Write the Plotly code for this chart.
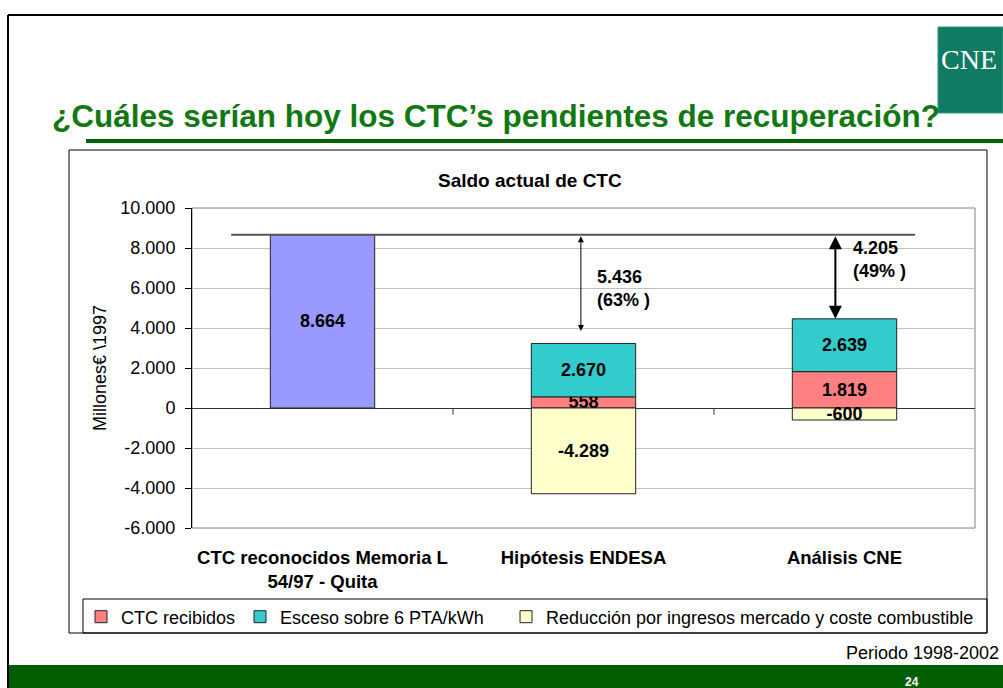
import plotly.graph_objects as go

# ---------------- data ----------------
categorias = ["CTC reconocidos Memoria L<br>54/97 - Quita", "Hipótesis ENDESA", "Análisis CNE"]
ctc_reconocidos = [8664, None, None]
ctc_recibidos = [None, 558, 1819]
exceso_6pta = [None, 2670, 2639]
reduccion_mercado = [None, -4289, -600]
diferencia = [None, 5436, 4205]
porcentaje = [None, 63, 49]
y_tick_vals = [-6000, -4000, -2000, 0, 2000, 4000, 6000, 8000, 10000]
y_tick_labels = ["-6.000", "-4.000", "-2.000", "0", "2.000", "4.000", "6.000", "8.000", "10.000"]

W, H = 1003, 688
FONT = "Liberation Sans, Arial, sans-serif"


def px(x):
    return x / W


def py(y):
    return 1 - y / H


def es(v):
    return "" if v is None else f"{v:,}".replace(",", ".")


fig = go.Figure()

series = [
    ("CTC recibidos", ctc_recibidos, "#FF8080", "legend"),
    ("Esceso sobre 6 PTA/kWh", exceso_6pta, "#33CCCC", "legend2"),
    ("Reducción por ingresos mercado y coste combustible", reduccion_mercado, "#FFFFCC", "legend3"),
    ("CTC reconocidos", ctc_reconocidos, "#9999FF", None),
]
for name, vals, color, leg in series:
    fig.add_trace(go.Bar(
        x=categorias, y=vals, name=name, showlegend=leg is not None,
        legend=leg if leg else "legend",
        marker=dict(color=color, line=dict(color="#222222", width=1)),
        text=[es(v) for v in vals], textposition="inside", insidetextanchor="middle",
        textangle=0, constraintext="none",
        textfont=dict(family=FONT, size=18, color="black", weight="bold"),
        hoverinfo="skip",
    ))

shapes = []
# page border
shapes.append(dict(type="line", xref="paper", yref="paper", x0=px(8), x1=px(1003), y0=py(15), y1=py(15),
                   line=dict(color="black", width=2)))
shapes.append(dict(type="line", xref="paper", yref="paper", x0=px(8), x1=px(8), y0=py(15), y1=py(688),
                   line=dict(color="black", width=2)))
# bottom green band
shapes.append(dict(type="rect", xref="paper", yref="paper", x0=px(9), x1=px(1003), y0=py(688), y1=py(665),
                   fillcolor="#005E00", line=dict(width=0), layer="below"))
# title underline
shapes.append(dict(type="rect", xref="paper", yref="paper", x0=px(86), x1=px(1003), y0=py(143), y1=py(139),
                   fillcolor="#006400", line=dict(width=0)))
# logo box
shapes.append(dict(type="rect", xref="paper", yref="paper", x0=px(938), x1=px(1003), y0=py(113), y1=py(27),
                   fillcolor="#0E7B62", line=dict(color="#2E9A80", width=1), layer="below"))
# chart frame
shapes.append(dict(type="rect", xref="paper", yref="paper", x0=px(69), x1=px(987), y0=py(633), y1=py(150),
                   line=dict(color="black", width=1), layer="below"))
# legend box
shapes.append(dict(type="rect", xref="paper", yref="paper", x0=px(83), x1=px(987), y0=py(633), y1=py(599),
                   line=dict(color="black", width=1), layer="below"))
# plot area border
shapes.append(dict(type="rect", xref="paper", yref="paper", x0=px(192), x1=px(975), y0=py(528), y1=py(208),
                   line=dict(color="#808080", width=1), layer="below"))
# tick marks on zero line between categories
for xb in [0.5, 1.5]:
    shapes.append(dict(type="line", xref="x", yref="y", x0=xb, x1=xb, y0=0, y1=-330,
                       line=dict(color="#333333", width=1)))
# reference line at recognised CTC level
ref = ctc_reconocidos[0]
shapes.append(dict(type="line", xref="x", yref="y", x0=-0.35, x1=2.27, y0=ref, y1=ref,
                   line=dict(color="#555555", width=2)))

annotations = []
# title
annotations.append(dict(text="<b>¿Cuáles serían hoy los CTC’s pendientes de recuperación?</b>",
                        xref="paper", yref="paper", x=px(50), y=py(116), xanchor="left", yanchor="middle",
                        showarrow=False, font=dict(family=FONT, size=31.5, color="#127812")))
# logo text
annotations.append(dict(text="CNE", xref="paper", yref="paper", x=px(969), y=py(59), xanchor="center",
                        yanchor="middle", showarrow=False,
                        font=dict(family="Liberation Serif, Times New Roman, serif", size=28, color="white")))
# chart title
annotations.append(dict(text="<b>Saldo actual de CTC</b>", xref="paper", yref="paper", x=px(530), y=py(180),
                        xanchor="center", yanchor="middle", showarrow=False,
                        font=dict(family=FONT, size=19, color="black")))
# y axis title
annotations.append(dict(text="Millones€ \\1997", xref="paper", yref="paper", x=px(100), y=py(368),
                        xanchor="center", yanchor="middle", textangle=-90, showarrow=False,
                        font=dict(family=FONT, size=18, color="black")))
# periodo
annotations.append(dict(text="Periodo 1998-2002", xref="paper", yref="paper", x=px(1001), y=py(653),
                        xanchor="right", yanchor="middle", showarrow=False,
                        font=dict(family=FONT, size=18, color="black")))
# page number
annotations.append(dict(text="<b>24</b>", xref="paper", yref="paper", x=px(912), y=py(682),
                        xanchor="center", yanchor="middle", showarrow=False,
                        font=dict(family=FONT, size=12, color="white")))

# arrows
tops = [None] + [r + e for r, e in zip(ctc_recibidos[1:], exceso_6pta[1:])]
annotations.append(dict(x=0.99, y=tops[1] + 620, ax=0.99, ay=ref, xref="x", yref="y", axref="x", ayref="y",
                        text="", showarrow=True, arrowside="end+start", arrowhead=2, arrowsize=1.2,
                        arrowwidth=1, arrowcolor="black", standoff=0, startstandoff=0))
annotations.append(dict(x=1.965, y=tops[2], ax=1.965, ay=ref, xref="x", yref="y", axref="x", ayref="y",
                        text="", showarrow=True, arrowside="end+start", arrowhead=2, arrowsize=1.3,
                        arrowwidth=2, arrowcolor="black", standoff=0, startstandoff=0))
# difference labels
annotations.append(dict(text=f"<b>{es(diferencia[1])}<br>({porcentaje[1]}% )</b>", xref="paper", yref="paper",
                        x=px(595), y=py(288), xanchor="left", yanchor="middle", align="left", showarrow=False,
                        font=dict(family=FONT, size=18, color="black")))
annotations.append(dict(text=f"<b>{es(diferencia[2])}<br>({porcentaje[2]}% )</b>", xref="paper", yref="paper",
                        x=px(851), y=py(259), xanchor="left", yanchor="middle", align="left", showarrow=False,
                        font=dict(family=FONT, size=18, color="black")))

legend_style = dict(orientation="h", yanchor="middle", xanchor="left", y=py(617),
                    bgcolor="rgba(0,0,0,0)", font=dict(family=FONT, size=18, color="black"))

fig.update_layout(
    width=W, height=H, margin=dict(l=0, r=0, t=0, b=0, autoexpand=False),
    paper_bgcolor="white", plot_bgcolor="white",
    barmode="relative", bargap=0.6,
    uniformtext=dict(minsize=18, mode="show"),
    font=dict(family=FONT, size=18, color="black"),
    showlegend=True,
    legend=dict(x=px(81), **legend_style),
    legend2=dict(x=px(240), **legend_style),
    legend3=dict(x=px(506), **legend_style),
    shapes=shapes, annotations=annotations,
)
fig.update_xaxes(domain=[px(192), px(975)], range=[-0.5, 2.5], type="category",
                 showgrid=False, showline=False, ticks="", zeroline=False, automargin=False,
                 ticklabelstandoff=16,
                 tickfont=dict(family=FONT, size=18.5, color="black", weight="bold"))
fig.update_yaxes(domain=[py(528), py(208)], range=[-6000, 10000], automargin=False,
                 tickvals=y_tick_vals, ticktext=y_tick_labels,
                 showgrid=True, gridcolor="#C0C0C0", gridwidth=1,
                 zeroline=True, zerolinecolor="#333333", zerolinewidth=1,
                 showline=True, linecolor="black", linewidth=1,
                 ticks="outside", ticklen=6, tickcolor="black", ticklabelstandoff=6,
                 tickfont=dict(family=FONT, size=18, color="black"))

fig.write_html("out.html", config={"displayModeBar": False},
               post_script="document.body.style.margin='0';document.body.style.overflow='hidden';")
